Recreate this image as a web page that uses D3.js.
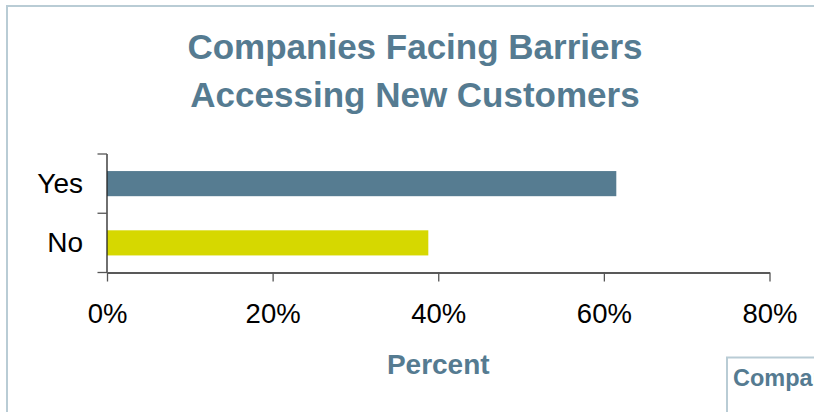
<!DOCTYPE html>
<html>
<head>
<meta charset="utf-8">
<script src="https://cdn.jsdelivr.net/npm/d3@7"></script>
<style>
  html, body { margin: 0; padding: 0; background: #fff; }
  svg { display: block; font-family: "Liberation Sans", Arial, sans-serif; }
</style>
</head>
<body>
<svg id="chart" width="814" height="412"></svg>
<script>
// Survey answers and their share of companies (%)
const categories = ["Yes", "No"];
const values = [61.5, 38.8];
const barColors = ["#567c91", "#d6d800"];
const xTicks = [0, 20, 40, 60, 80];
const titleLines = ["Companies Facing Barriers", "Accessing New Customers"];
const xTitle = "Percent";
const nextPanelTitle = "Companies";

const svg = d3.select("#chart");
const titleColor = "#557b91";
const frameColor = "#b9ccd5";

// outer panel frame (continues past the right and bottom edges)
svg.append("rect")
  .attr("x", 7).attr("y", 6)
  .attr("width", 900).attr("height", 500)
  .attr("fill", "none")
  .attr("stroke", frameColor)
  .attr("stroke-width", 2);

// title
svg.append("text")
  .attr("x", 415).attr("y", 59)
  .attr("text-anchor", "middle")
  .attr("font-size", 35).attr("font-weight", "bold")
  .attr("fill", titleColor)
  .selectAll("tspan")
  .data(titleLines)
  .join("tspan")
  .attr("x", 415)
  .attr("dy", (d, i) => i === 0 ? 0 : 48)
  .text(d => d);

const x = d3.scaleLinear().domain([0, 80]).range([107, 769.5]);
const y = d3.scaleBand().domain(categories).range([154, 272.5])
  .paddingInner(0.576).paddingOuter(0.288);

// bars
svg.append("g")
  .selectAll("rect")
  .data(categories)
  .join("rect")
  .attr("x", x(0))
  .attr("y", d => y(d))
  .attr("width", (d, i) => x(values[i]) - x(0))
  .attr("height", y.bandwidth())
  .attr("fill", (d, i) => barColors[i]);

// x axis
const xAxis = svg.append("g")
  .attr("transform", "translate(0,272.5)")
  .call(d3.axisBottom(x).tickValues(xTicks).tickFormat(d => d + "%").tickSize(9).tickPadding(22).tickSizeOuter(0));
xAxis.select(".domain").attr("stroke", "#222").attr("stroke-width", 1.3);
xAxis.selectAll(".tick line").attr("stroke", "#555").attr("stroke-width", 1.3);
xAxis.selectAll(".tick text")
  .attr("font-size", 27.5).attr("fill", "#000")
  .attr("font-family", "Liberation Sans, Arial, sans-serif");

// y axis: labels centred on each band, tick marks on band boundaries
const yAxis = svg.append("g")
  .attr("transform", "translate(107,0)")
  .call(d3.axisLeft(y).tickSize(0).tickPadding(24).tickSizeOuter(0));
yAxis.select(".domain").remove();
yAxis.selectAll(".tick text")
  .attr("font-size", 28).attr("fill", "#000")
  .attr("font-family", "Liberation Sans, Arial, sans-serif");

const yEdges = [y.range()[0], y(categories[1]) - (y.step() - y.bandwidth()) / 2, y.range()[1]];
const yLine = svg.append("g");
yLine.append("line")
  .attr("x1", 107).attr("x2", 107)
  .attr("y1", y.range()[0]).attr("y2", y.range()[1])
  .attr("stroke", "#222").attr("stroke-width", 1.3);
yLine.selectAll("line.edge")
  .data(yEdges)
  .join("line")
  .attr("class", "edge")
  .attr("x1", 97.5).attr("x2", 107)
  .attr("y1", d => d).attr("y2", d => d)
  .attr("stroke", "#555").attr("stroke-width", 1.3);

// x axis title
svg.append("text")
  .attr("x", (x.range()[0] + x.range()[1]) / 2).attr("y", 374)
  .attr("text-anchor", "middle")
  .attr("font-size", 28).attr("font-weight", "bold")
  .attr("fill", titleColor)
  .text(xTitle);

// neighbouring panel, cut off at the right edge
svg.append("rect")
  .attr("x", 727).attr("y", 357.5)
  .attr("width", 200).attr("height", 100)
  .attr("fill", "#fff")
  .attr("stroke", frameColor)
  .attr("stroke-width", 2);
svg.append("text")
  .attr("x", 733).attr("y", 386)
  .attr("font-size", 23.5).attr("font-weight", "bold")
  .attr("fill", titleColor)
  .text(nextPanelTitle);
</script>
</body>
</html>
